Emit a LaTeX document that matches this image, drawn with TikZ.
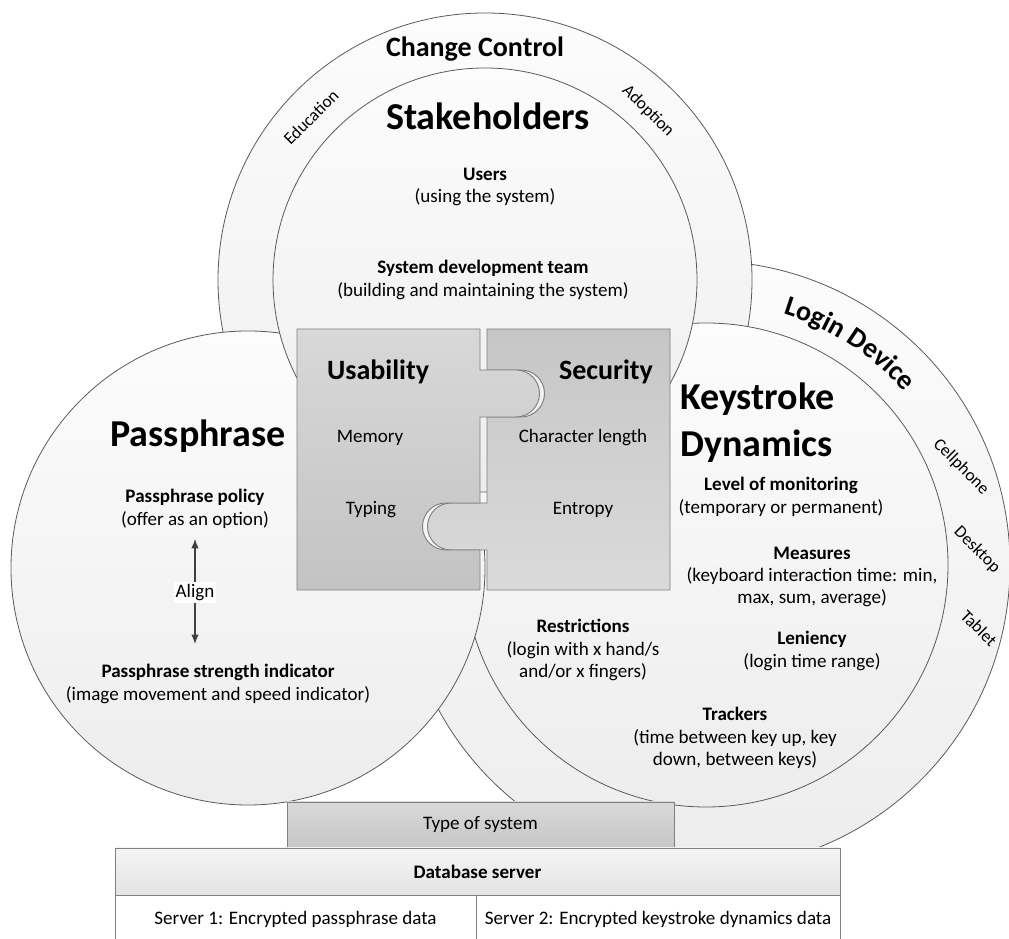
\documentclass[tikz,border=0pt]{standalone}
\usepackage{fontspec}
\setmainfont{Carlito}
\usetikzlibrary{arrows.meta,decorations.text,calc}

\definecolor{edge}{HTML}{5A5A5A}
\definecolor{discTop}{HTML}{FCFCFC}
\definecolor{discBot}{HTML}{EDEDED}
\definecolor{pieceEdge}{HTML}{7F7F7F}
\definecolor{usaTop}{HTML}{D8D8D8}
\definecolor{usaBot}{HTML}{C3C3C3}
\definecolor{secTop}{HTML}{C6C6C6}
\definecolor{secBot}{HTML}{DADADA}
\definecolor{boxEdge}{HTML}{808080}
\definecolor{typeTop}{HTML}{D9D9D9}
\definecolor{typeBot}{HTML}{C6C6C6}
\definecolor{dbTop}{HTML}{F4F4F4}
\definecolor{dbBot}{HTML}{E4E4E4}
\definecolor{arrowGray}{HTML}{404040}

\newcommand\szBody{\fontsize{14.3}{16.8}\selectfont}
\newcommand\szSmall{\fontsize{13}{15}\selectfont}
\newcommand\szMid{\fontsize{21}{25}\selectfont}
\newcommand\szBig{\fontsize{28.5}{35.25}\selectfont}

\begin{document}
\begin{tikzpicture}[x=0.75pt, y=0.75pt,
  disc/.style={draw=edge, line width=0.6pt, top color=discTop, bottom color=discBot},
  piecebox/.style={draw=pieceEdge, line width=0.7pt},
  txt/.style={inner sep=0pt, align=center, font=\szBody},
  ring/.style={inner sep=0pt, font=\szSmall},
  head/.style={inner sep=0pt, font=\szMid\bfseries},
  title/.style={inner sep=0pt, font=\szBig\bfseries},
  cellbox/.style={draw=boxEdge, line width=0.6pt, inner sep=0pt, font=\szBody},
  aligner/.style={draw=arrowGray, line width=0.8pt,
    {Latex[length=7pt,width=5.5pt]}-{Latex[length=7pt,width=5.5pt]}}
]
\useasboundingbox (0,0) rectangle (1009,938);

% ---- circles, back to front ----
\path[disc] (706,373) circle[radius=304];   % Login Device ring
\path[disc] (485,658) circle[radius=267];   % Change Control ring
\path[disc] (706,373) circle[radius=242];   % Keystroke Dynamics
\path[disc] (248,370) circle[radius=237];   % Passphrase
\path[disc] (485,658) circle[radius=212];   % Stakeholders

% ---- puzzle pieces ----
\path[piecebox, top color=secTop, bottom color=secBot]
  (487,609) -- (670,609) -- (670,348) -- (487,348) -- (487,388) -- (451,388)
  arc[start angle=270, end angle=90, radius=23.5] -- (487,435) -- (487,521) -- (521,521)
  arc[start angle=-90, end angle=90, radius=23.5] -- (487,568) -- cycle;
\path[piecebox, top color=usaTop, bottom color=usaBot]
  (297,609) -- (480,609) -- (480,568) -- (516,568)
  arc[start angle=90, end angle=-90, radius=23.5] -- (480,521) -- (480,435) -- (446,435)
  arc[start angle=90, end angle=270, radius=23.5] -- (480,388) -- (480,348) -- (297,348) -- cycle;

% ---- base boxes ----
\node[cellbox, top color=typeTop, bottom color=typeBot,
      minimum width=290.25pt, minimum height=34.5pt] (tos) at (480.5,113) {Type of system};
\node[cellbox, top color=dbTop, bottom color=dbBot, font=\szBody\bfseries,
      minimum width=543.75pt, minimum height=35.25pt] (dbs) at (477.5,66.5) {Database server};
\node[cellbox, fill=white, minimum width=270.75pt, minimum height=36pt]
      (srv1) at (295.5,19) {Server 1: Encrypted passphrase data};
\node[cellbox, fill=white, minimum width=273pt, minimum height=36pt]
      (srv2) at (658,19) {Server 2: Encrypted keystroke dynamics data};

% ---- ring labels ----
\node[head, anchor=base] (chg) at (475,881) {Change Control};
\node[ring, rotate=45]  (edu) at (311,821) {Education};
\node[ring, rotate=-45] (ado) at (648,827) {Adoption};
\path[decorate, decoration={text along path, text align=center,
      text={|\szMid\bfseries|Login Device}}]
  ($(706,373)+(80:263)$) arc[start angle=80, end angle=34, radius=263];
\node[ring, rotate=-45] (cel) at (961,471) {Cellphone};
\node[ring, rotate=-45] (dsk) at (977,388) {Desktop};
\node[ring, rotate=-45] (tab) at (979,310) {Tablet};

% ---- stakeholders ----
\node[title, anchor=base] (stk) at (488,808) {Stakeholders};
\node[txt] (usr) at (485,751) {\textbf{Users}\\(using the system)};
\node[txt] (sdt) at (483,658) {\textbf{System development team}\\(building and maintaining the system)};

% ---- puzzle labels ----
\node[head, anchor=base] (usa) at (378,558) {Usability};
\node[head, anchor=base] (sec) at (606,558) {Security};
\node[txt] (mem) at (370,500) {Memory};
\node[txt] (typ) at (371,428) {Typing};
\node[txt] (chl) at (583,500) {Character length};
\node[txt] (ent) at (583,428) {Entropy};

% ---- passphrase ----
\node[title, anchor=base] (pph) at (198,491) {Passphrase};
\node[txt] (pol) at (195,429) {\textbf{Passphrase policy}\\(offer as an option)};
\node[txt] (psi) at (218,254) {\textbf{Passphrase strength indicator}\\(image movement and speed indicator)};
\draw[aligner, shorten <=7.7pt, shorten >=15.2pt] (pol.south) -- (pol.south |- psi.north)
  node[pos=0.47, fill=white, inner sep=1.5pt, font=\szBody] (aln) {Align};

% ---- keystroke dynamics ----
\node[title, align=left, anchor=west] (ksd) at (680,515) {Keystroke\\Dynamics};
\node[txt] (lom) at (781,441) {\textbf{Level of monitoring}\\(temporary or permanent)};
\node[txt] (mea) at (812,361) {\textbf{Measures}\\(keyboard interaction time: min,\\max, sum, average)};
\node[txt] (len) at (812,287) {\textbf{Leniency}\\(login time range)};
\node[txt] (res) at (583,288) {\textbf{Restrictions}\\(login with x hand/s\\and/or x fingers)};
\node[txt] (trk) at (735,200) {\textbf{Trackers}\\(time between key up, key\\down, between keys)};
\end{tikzpicture}
\end{document}
